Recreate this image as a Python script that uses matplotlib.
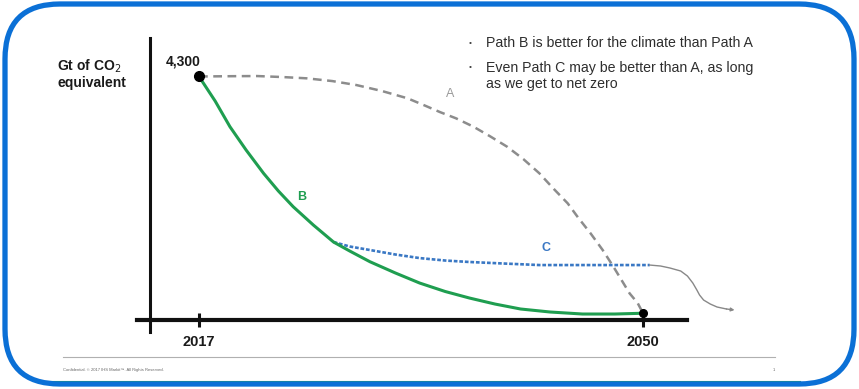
import matplotlib
matplotlib.use("Agg")
import matplotlib.pyplot as plt
from matplotlib.patches import FancyBboxPatch

plt.rcParams['font.family'] = ['Liberation Sans', 'DejaVu Sans']

# emission paths, Gt of CO2 equivalent by year
path_a_years = [2017, 2019.3, 2021.3, 2023.2, 2025.0, 2026.9, 2028.7, 2030.6,
                2032.5, 2033.7, 2034.9, 2036.1, 2037.4, 2038.6, 2039.9, 2041.1,
                2042.3, 2043.3, 2044.4, 2045.2, 2046.1, 2047.0, 2047.8, 2048.4,
                2049.0, 2049.6, 2050]
path_a_vals = [4300, 4305, 4308, 4290, 4267, 4218, 4146, 4039,
               3908, 3787, 3662, 3549, 3398, 3231, 3039, 2818,
               2561, 2298, 2023, 1759, 1484, 1185, 885, 646,
               407, 233, 50]

path_b_years = [2017, 2018.2, 2019.3, 2020.5, 2021.8, 2022.9, 2024.0, 2025.5,
                2027.0, 2028.2, 2029.7, 2031.6, 2033.4, 2035.3, 2037.1, 2039.0,
                2040.9, 2043.1, 2045.5, 2047.9, 2050]
path_b_vals = [4300, 3859, 3398, 2980, 2561, 2244, 1962, 1633,
               1328, 1167, 975, 772, 592, 440, 323, 215,
               126, 72, 36, 36, 50]

path_c_years = [2027.0, 2028.2, 2029.7, 2031.6, 2033.4, 2035.3, 2037.1, 2039.7,
                2042.3, 2046.8, 2050.5]
path_c_vals = [1328, 1248, 1185, 1104, 1040, 996, 970, 942,
               915, 915, 915]

# what happens after 2050 if C does not reach net zero
tail_years = [2050.5, 2051.3, 2052.0, 2052.8, 2053.3, 2053.7, 2054.0, 2054.2,
              2054.5, 2055.0, 2055.5, 2056.2, 2056.8]
tail_vals = [915, 898, 862, 808, 718, 592, 467, 377,
             287, 215, 162, 126, 108]

start_year, end_year = 2017, 2050
start_val = 4300

bullets = ["Path B is better for the climate than Path A",
           "Even Path C may be better than A, as long\nas we get to net zero"]

fig = plt.figure(figsize=(8.59, 3.89), dpi=100)
fig.patch.set_facecolor("white")

# pixel-space layer for the frame, notes and footer
bg = fig.add_axes([0, 0, 1, 1])
bg.set_xlim(0, 859)
bg.set_ylim(389, 0)
bg.axis("off")

frame = FancyBboxPatch((5, 4), 849, 380,
                       boxstyle="round,pad=0,rounding_size=55",
                       fc="none", ec="#0b70d6", lw=3.8, zorder=5)
bg.add_patch(frame)
bg.plot([35, 800], [380.5, 380.5], color="#2aa05a", lw=0.8, zorder=4)

bg.text(57, 66, "Gt of CO$_2$", fontsize=10, fontweight="bold",
        color="#1a1a1a", va="center", ha="left")
bg.text(57, 83, "equivalent", fontsize=10, fontweight="bold",
        color="#1a1a1a", va="center", ha="left")

bg.text(470, 43, "\u2022", fontsize=6, color="#404040", va="center", ha="center")
bg.text(486, 43, bullets[0], fontsize=10.2, color="#2e2e2e", va="center")
bg.text(470, 67, "\u2022", fontsize=6, color="#404040", va="center", ha="center")
bg.text(486, 60.5, bullets[1], fontsize=10.2, color="#2e2e2e", va="top",
        linespacing=1.2)

bg.plot([63, 775], [357, 357], color="#b0b0b0", lw=0.8)
bg.text(63, 370, "Confidential. \u00a9 2017 IHS Markit\u2122. All Rights Reserved.",
        fontsize=3, color="#666666", va="center")
bg.text(773, 370, "1", fontsize=3, color="#666666", va="center")

# chart in data space
ax = fig.add_axes([0, 0, 1, 1])
ax.patch.set_alpha(0)
ax.set_xlim(2002.21, 2066.05)
ax.set_ylim(-1310, 5673)

for side in ["top", "right"]:
    ax.spines[side].set_visible(False)
ax.spines["left"].set_position(("data", 2013.36))
ax.spines["left"].set_bounds(-290, 4990)
ax.spines["left"].set_linewidth(2.2)
ax.spines["bottom"].set_position(("data", -70))
ax.spines["bottom"].set_bounds(2012.4, 2053.3)
ax.spines["bottom"].set_linewidth(3)
for side in ["left", "bottom"]:
    ax.spines[side].set_color("#111111")

ax.set_yticks([])
ax.set_xticks([start_year, end_year])
ax.set_xticklabels([str(start_year), str(end_year)])
ax.tick_params(axis="x", direction="inout", length=10, width=2.2,
               color="#111111", pad=5.5, labelsize=10.5)
for lbl in ax.get_xticklabels():
    lbl.set_fontweight("bold")
    lbl.set_color("#1a1a1a")

ax.plot(path_a_years, path_a_vals, color="#8c8c8c", lw=1.8,
        linestyle=(0, (3.5, 2.2)), zorder=3)
ax.plot(path_c_years, path_c_vals, color="#3a78c4", lw=1.9,
        linestyle=(0, (1.4, 0.7)), zorder=3)
ax.plot(path_b_years, path_b_vals, color="#1f9e50", lw=2.2, zorder=4,
        solid_joinstyle="round")
ax.plot(tail_years[:-1], tail_vals[:-1], color="#888888", lw=1, zorder=3)
ax.annotate("", xy=(tail_years[-1], tail_vals[-1]),
            xytext=(tail_years[-2], tail_vals[-2]),
            arrowprops=dict(arrowstyle="-|>", color="#888888", lw=1,
                            mutation_scale=5, shrinkA=0, shrinkB=0))

ax.plot([start_year], [start_val], "o", color="black", ms=7, zorder=6)
ax.plot([end_year], [path_b_vals[-1]], "o", color="black", ms=5.5, zorder=6)

ax.annotate(f"{start_val:,}", xy=(start_year, start_val), xytext=(-11.5, 10.5),
            textcoords="offset points", ha="center", va="center",
            fontsize=10, fontweight="bold", color="#1a1a1a")

ax.text(2035.7, 3985, "A", fontsize=9, color="#9a9a9a",
        ha="center", va="center")
ax.text(2024.6, 2136, "B", fontsize=9, fontweight="bold", color="#1f9e50",
        ha="center", va="center")
ax.text(2042.8, 1220, "C", fontsize=9, fontweight="bold", color="#3a78c4",
        ha="center", va="center")

fig.savefig("out.png", dpi=100, facecolor="white")
